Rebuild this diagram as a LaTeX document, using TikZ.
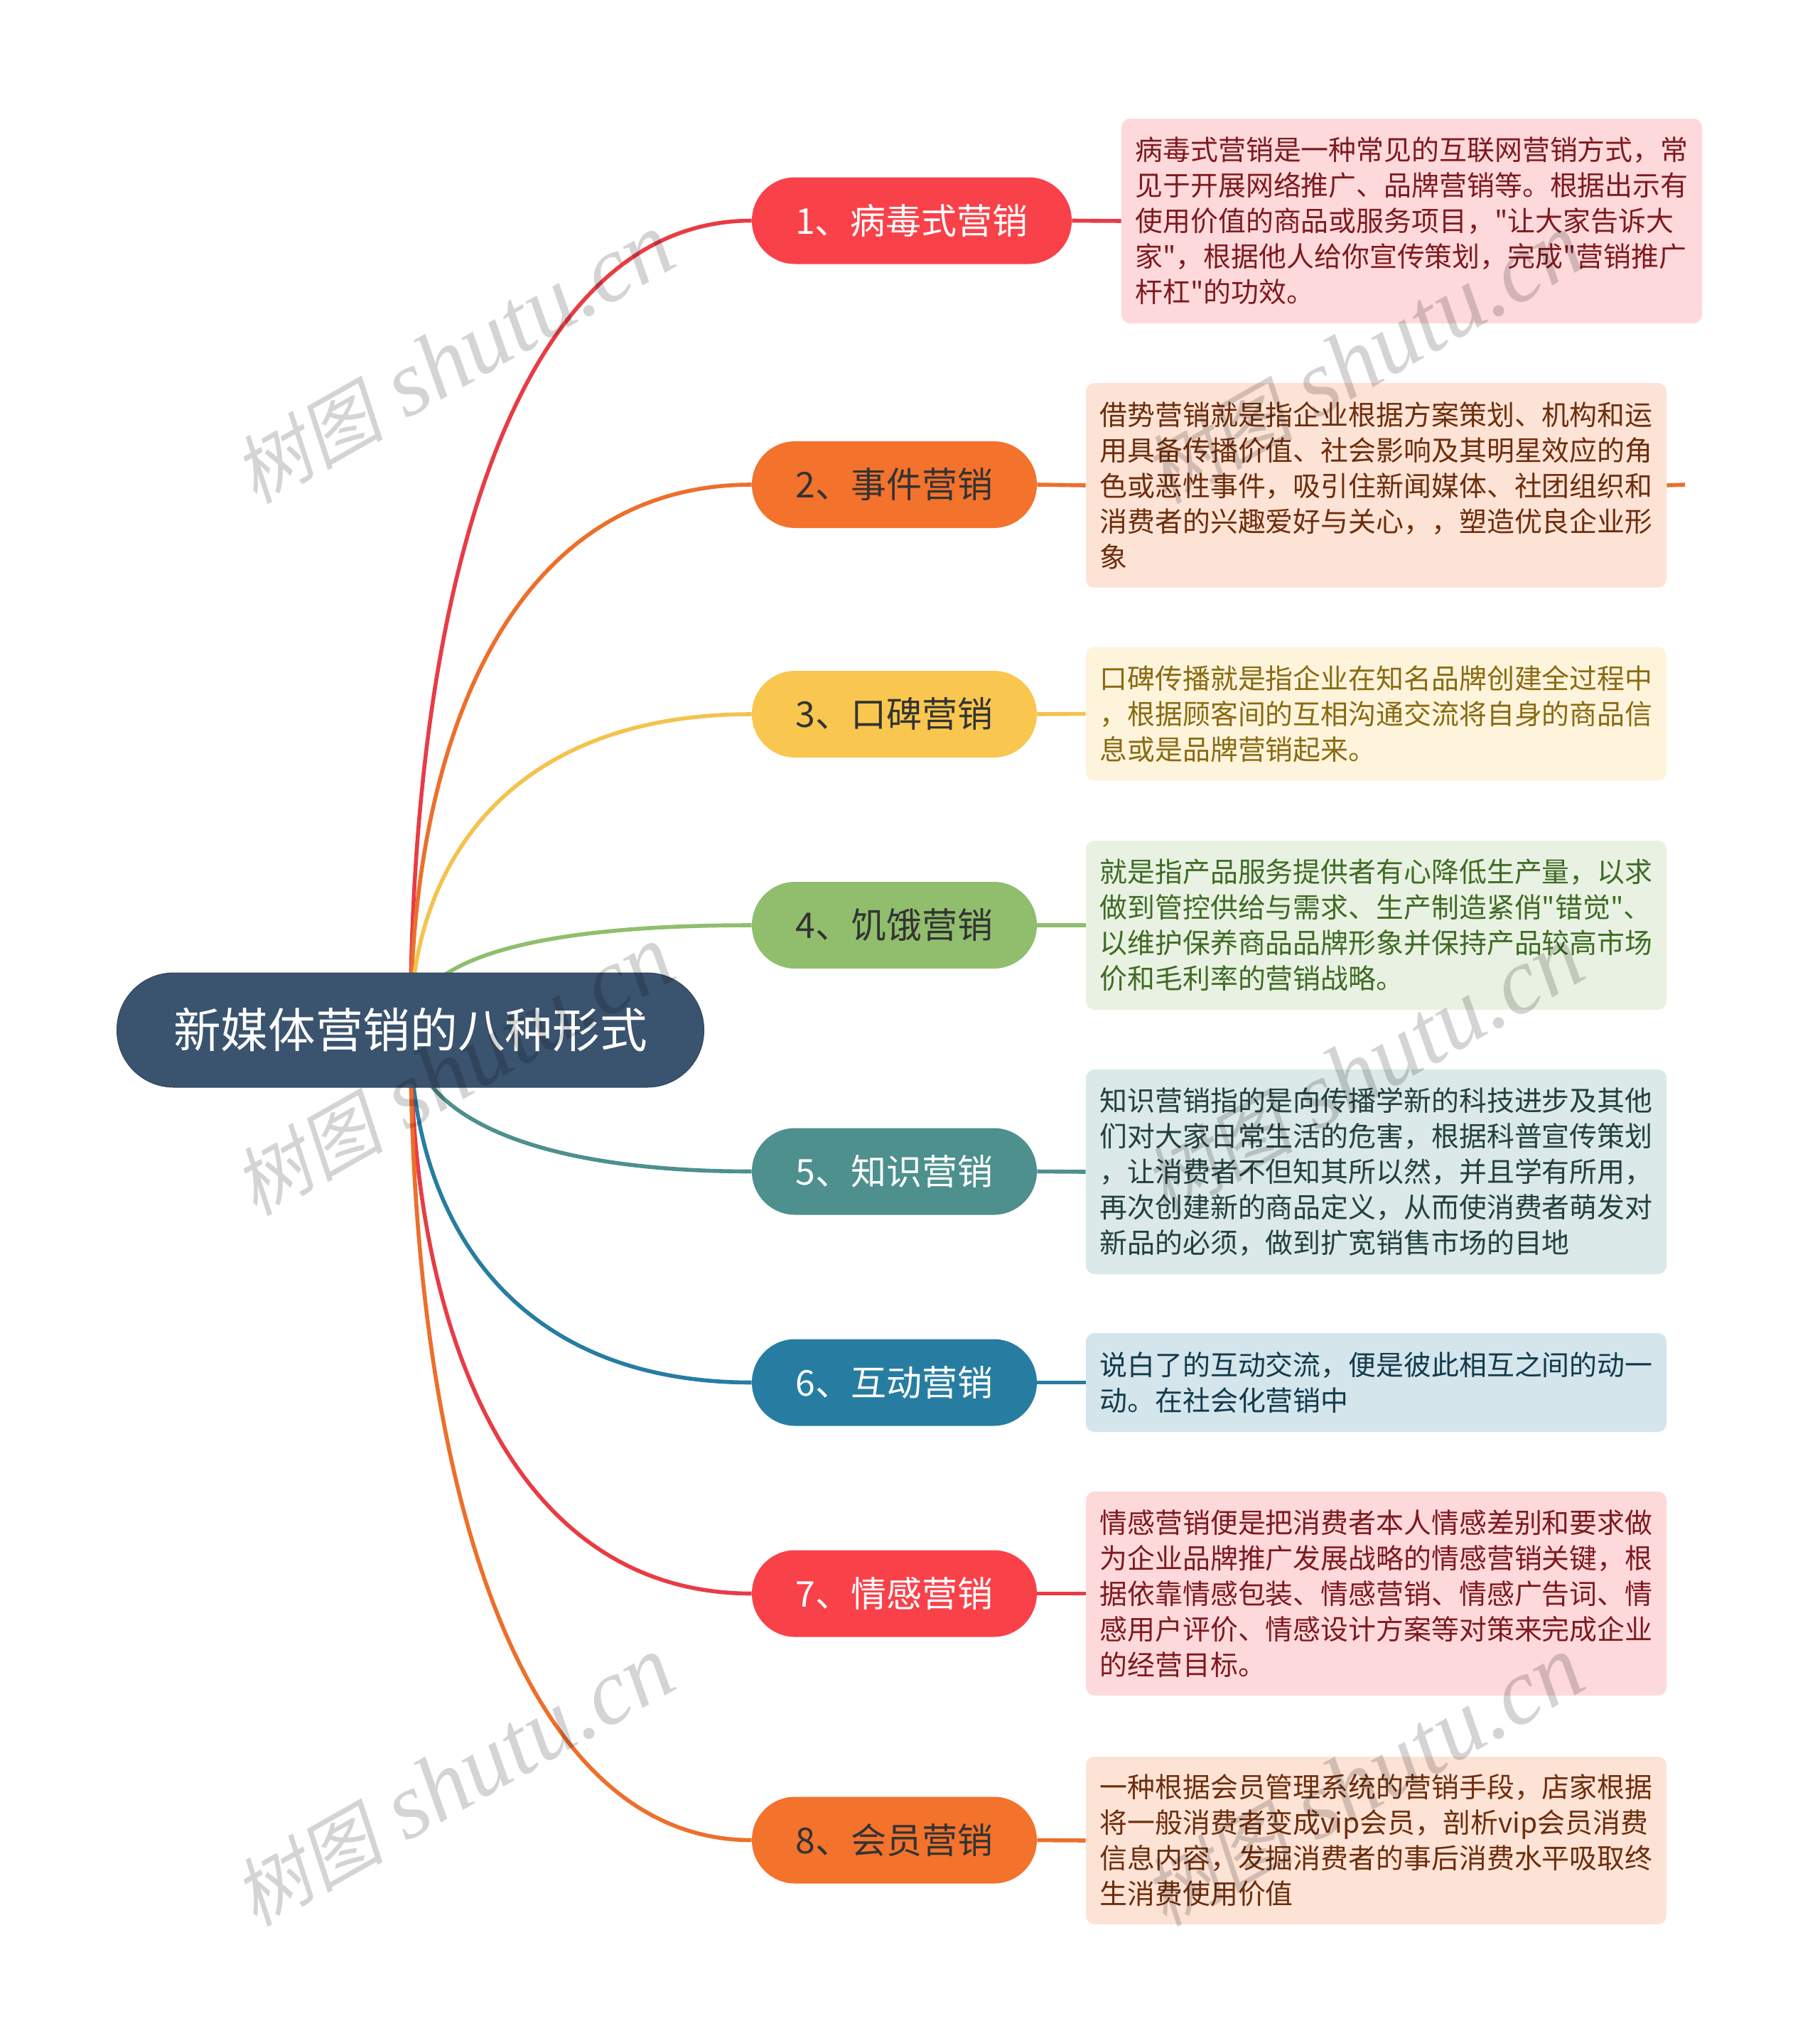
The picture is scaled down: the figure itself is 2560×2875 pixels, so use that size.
\documentclass[tikz,border=0pt]{standalone}
\usepackage{fontspec}
\setmainfont{Noto Sans CJK SC}
\newfontfamily\cjkbody{Noto Sans CJK SC}
\newfontfamily\wmcjk[FakeSlant=0.2]{Noto Sans CJK SC}
\newfontfamily\wmlat{Liberation Serif}
\usetikzlibrary{backgrounds}
\definecolor{cRoot}{HTML}{3A536E}
\definecolor{cRed}{HTML}{F9414A}
\definecolor{cOrange}{HTML}{F3722C}
\definecolor{cYellow}{HTML}{F9C74F}
\definecolor{cGreen}{HTML}{90BE6D}
\definecolor{cTeal}{HTML}{4D908E}
\definecolor{cBlue}{HTML}{277DA1}
\definecolor{bRed}{HTML}{FED9DB}
\definecolor{bOrange}{HTML}{FDE3D5}
\definecolor{bYellow}{HTML}{FEF4DC}
\definecolor{bGreen}{HTML}{E9F2E2}
\definecolor{bTeal}{HTML}{DBE9E8}
\definecolor{bBlue}{HTML}{D4E5EC}
\definecolor{tRed}{HTML}{7E1A1F}
\definecolor{tOrange}{HTML}{6E2D0C}
\definecolor{tYellow}{HTML}{8A6A12}
\definecolor{tGreen}{HTML}{3F6B25}
\definecolor{tTeal}{HTML}{22403F}
\definecolor{tBlue}{HTML}{123A4B}
\definecolor{tDark}{HTML}{333333}
\tikzset{
  x=0.5pt,y=-0.5pt,
  rootbox/.style={fill=cRoot,draw=cRoot!85!black,line width=0.5pt,rounded corners=40pt,minimum width=413pt,minimum height=80.5pt,inner sep=0pt,text=white,font=\cjkbody\fontsize{33.35}{40}\selectfont},
  branchbox/.style={rounded corners=30.4pt,minimum height=61pt,inner sep=0pt,font=\cjkbody\fontsize{25}{30}\selectfont},
  shortbr/.style={branchbox,minimum width=200.5pt},
  longbr/.style={branchbox,minimum width=225pt},
  detail/.style={rounded corners=6pt,minimum width=408.5pt,inner sep=0pt,align=left,font=\cjkbody\fontsize{19.45}{25}\selectfont},
  curve/.style={line width=2.8pt},
  stub/.style={line width=2.8pt},
  mark wm/.style={rotate=29.5,text=black,opacity=0.17,inner sep=0pt}
}
\begin{document}
\begin{tikzpicture}
\useasboundingbox (0,0) rectangle (2560,2875);
% root
\node[rootbox] (root) at (577.5,1449.5) {新媒体营销的八种形式};
% branches
\node[longbr,fill=cRed,text=white] (b1) at (1283,310.5) {1、病毒式营销};
\node[shortbr,fill=cOrange,text=tDark] (b2) at (1258.5,682) {2、事件营销};
\node[shortbr,fill=cYellow,text=tDark] (b3) at (1258.5,1005) {3、口碑营销};
\node[shortbr,fill=cGreen,text=tDark] (b4) at (1258.5,1302) {4、饥饿营销};
\node[shortbr,fill=cTeal,text=white] (b5) at (1258.5,1648.5) {5、知识营销};
\node[shortbr,fill=cBlue,text=white] (b6) at (1258.5,1945.5) {6、互动营销};
\node[shortbr,fill=cRed,text=white] (b7) at (1258.5,2242.5) {7、情感营销};
\node[shortbr,fill=cOrange,text=tDark] (b8) at (1258.5,2589.5) {8、会员营销};
% details
\node[detail,fill=bRed,text=tRed,minimum height=144pt] (d1) at (1986.5,311) {病毒式营销是一种常见的互联网营销方式，常\\见于开展网络推广、品牌营销等。根据出示有\\使用价值的商品或服务项目，"让大家告诉大\\家"，根据他人给你宣传策划，完成"营销推广\\杆杠"的功效。};
\node[detail,fill=bOrange,text=tOrange,minimum height=144pt] (d2) at (1936.5,683) {借势营销就是指企业根据方案策划、机构和运\\用具备传播价值、社会影响及其明星效应的角\\色或恶性事件，吸引住新闻媒体、社团组织和\\消费者的兴趣爱好与关心，，塑造优良企业形\\象};
\node[detail,fill=bYellow,text=tYellow,minimum height=94pt] (d3) at (1936.5,1004.5) {口碑传播就是指企业在知名品牌创建全过程中\\，根据顾客间的互相沟通交流将自身的商品信\\息或是品牌营销起来。};
\node[detail,fill=bGreen,text=tGreen,minimum height=119pt] (d4) at (1936.5,1302) {就是指产品服务提供者有心降低生产量，以求\\做到管控供给与需求、生产制造紧俏"错觉"、\\以维护保养商品品牌形象并保持产品较高市场\\价和毛利率的营销战略。};
\node[detail,fill=bTeal,text=tTeal,minimum height=144pt] (d5) at (1936.5,1649) {知识营销指的是向传播学新的科技进步及其他\\们对大家日常生活的危害，根据科普宣传策划\\，让消费者不但知其所以然，并且学有所用，\\再次创建新的商品定义，从而使消费者萌发对\\新品的必须，做到扩宽销售市场的目地};
\node[detail,fill=bBlue,text=tBlue,minimum height=69.5pt] (d6) at (1936.5,1945.5) {说白了的互动交流，便是彼此相互之间的动一\\动。在社会化营销中};
\node[detail,fill=bRed,text=tRed,minimum height=143.5pt] (d7) at (1936.5,2242.5) {情感营销便是把消费者本人情感差别和要求做\\为企业品牌推广发展战略的情感营销关键，根\\据依靠情感包装、情感营销、情感广告词、情\\感用户评价、情感设计方案等对策来完成企业\\的经营目标。};
\node[detail,fill=bOrange,text=tOrange,minimum height=118pt] (d8) at (1936.5,2590) {一种根据会员管理系统的营销手段，店家根据\\将一般消费者变成vip会员，剖析vip会员消费\\信息内容，发掘消费者的事后消费水平吸取终\\生消费使用价值};
\coordinate (c2) at (2371,682);
% connectors
\begin{pgfonlayer}{background}
\draw[curve,cRed!93!black] (root.center) .. controls (578,835) and (722,310.5) .. (b1.west);
\draw[curve,cOrange!97!black] (root.center) .. controls (578,1035) and (722,682) .. (b2.west);
\draw[curve,cYellow!98!black] (root.center) .. controls (578,1210) and (722,1005) .. (b3.west);
\draw[curve,cGreen] (root.center) .. controls (578,1358) and (722,1302) .. (b4.west);
\draw[curve,cTeal] (root.center) .. controls (578,1557) and (722,1648.5) .. (b5.west);
\draw[curve,cBlue] (root.center) .. controls (578,1718) and (722,1945.5) .. (b6.west);
\draw[curve,cRed!93!black] (root.center) .. controls (578,1878) and (722,2242.5) .. (b7.west);
\draw[curve,cOrange!97!black] (root.center) .. controls (578,2065) and (722,2589.5) .. (b8.west);
\draw[stub,cRed!93!black] (b1.east) -- (d1.west);
\draw[stub,cOrange!97!black] (b2.east) -- (d2.west);
\draw[stub,cOrange!97!black] (d2.east) -- (c2);
\draw[stub,cYellow!98!black] (b3.east) -- (d3.west);
\draw[stub,cGreen] (b4.east) -- (d4.west);
\draw[stub,cTeal] (b5.east) -- (d5.west);
\draw[stub,cBlue] (b6.east) -- (d6.west);
\draw[stub,cRed!93!black] (b7.east) -- (d7.west);
\draw[stub,cOrange!97!black] (b8.east) -- (d8.west);
\end{pgfonlayer}
% watermarks
\foreach \n/\px/\py in {1/638/505,2/1918/505,3/638/1507,4/1918/1507,5/638/2507,6/1918/2507}{
  \node[mark wm] (w\n) at (\px,\py) {{\wmcjk\fontsize{53}{53}\selectfont 树图}\hspace{16pt}{\wmlat\itshape\fontsize{66}{66}\selectfont shutu.cn}};
}
\end{tikzpicture}
\end{document}
